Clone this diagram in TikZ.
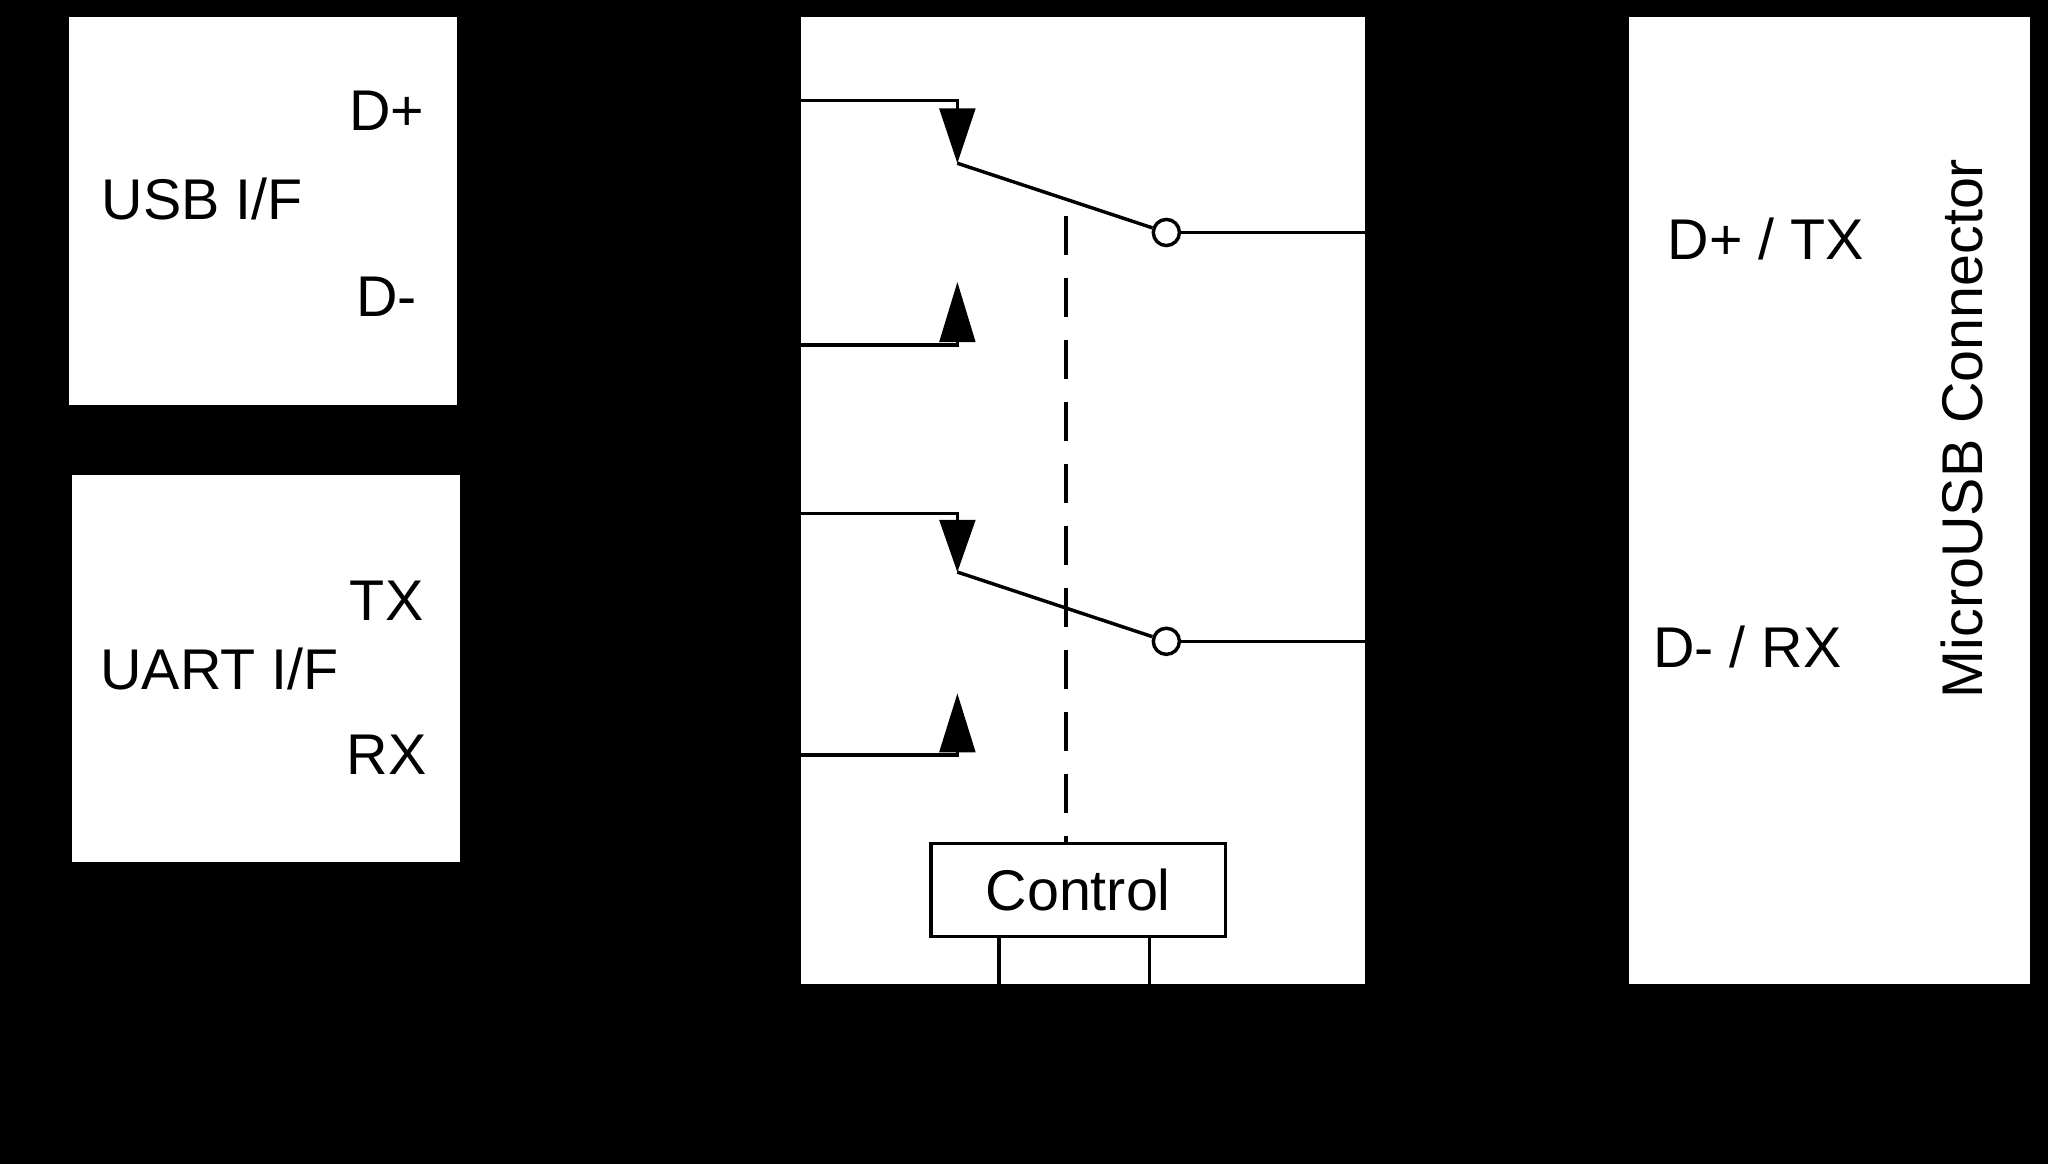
\documentclass[tikz,border=0pt]{standalone}
\usepackage{fontspec}
\setmainfont{Liberation Sans}
\begin{document}
\begin{tikzpicture}[x=0.01cm,y=-0.01cm,
  box/.style={fill=white,draw=none},
  wire/.style={line width=0.75pt},
  lbl/.style={font=\fontsize{12.5}{14}\selectfont,inner sep=0pt},
  tri/.style={fill=black,draw=none}]
\fill[black] (0,0) rectangle (1568,891);
\useasboundingbox (0,0) rectangle (1568,891);
% USB box
\fill[box] (53,13) rectangle (350,310);
\node[lbl] (dp) at (296,85) {D+};
\node[lbl] (usb) at (155,152) {USB I/F};
\node[lbl] (dm) at (296,227) {D-};
% UART box
\fill[box] (55,364) rectangle (352,660);
\node[lbl] (tx) at (296,460) {TX};
\node[lbl] (uart) at (168,512) {UART I/F};
\node[lbl] (rx) at (296,578) {RX};
% middle box
\fill[box] (613,13) rectangle (1045,753);
% switch 1
\draw[wire] (613,77) -- (733,77) -- (733,90);
\fill[tri] (719,83) -- (747,83) -- (733,125) -- cycle;
\coordinate (p1) at (733,125);
\node[circle,draw,fill=white,line width=0.75pt,minimum size=0.2cm,inner sep=0pt] (c1) at (893,178) {};
\draw[wire] (p1) -- (c1);
\draw[wire] (c1) -- (1045,178);
\draw[wire] (613,264) -- (733,264) -- (733,255);
\fill[tri] (719,262) -- (747,262) -- (733,216) -- cycle;
% switch 2
\draw[wire] (613,393) -- (733,393) -- (733,405);
\fill[tri] (719,398) -- (747,398) -- (733,438) -- cycle;
\coordinate (p2) at (733,438);
\node[circle,draw,fill=white,line width=0.75pt,minimum size=0.2cm,inner sep=0pt] (c2) at (893,491) {};
\draw[wire] (p2) -- (c2);
\draw[wire] (c2) -- (1045,491);
\draw[wire] (613,578) -- (733,578) -- (733,570);
\fill[tri] (719,576) -- (747,576) -- (733,531) -- cycle;
% control
\node[draw,line width=0.75pt,minimum width=2.25cm,minimum height=0.71cm,inner sep=0pt,font=\fontsize{12.5}{14}\selectfont] (ctrl) at (825.5,681.5) {Control};
\draw[wire,dash pattern=on 8.5pt off 5pt] (816,165) -- (816,645);
\draw[wire] (765,717) -- (765,753);
\draw[wire] (880,717) -- (880,753);
% right box
\fill[box] (1247,13) rectangle (1554,753);
\node[lbl] (dptx) at (1352,183) {D+ / TX};
\node[lbl] (dmrx) at (1338,495) {D- / RX};
\node[lbl,rotate=90] (micro) at (1502,328) {MicroUSB Connector};
\end{tikzpicture}
\end{document}
